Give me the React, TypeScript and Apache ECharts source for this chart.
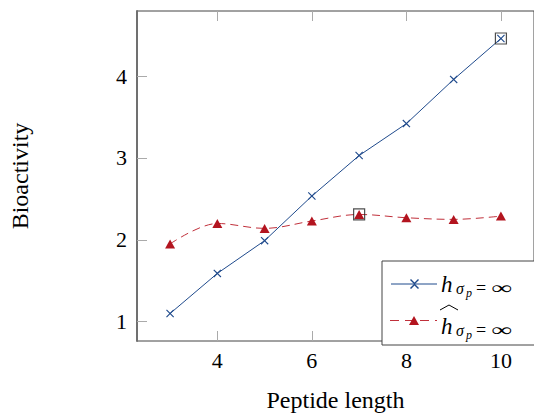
import React, { useEffect, useRef } from "react";
import * as echarts from "echarts";

const lengths = [3, 4, 5, 6, 7, 8, 9, 10];
const hValues = [1.1, 1.59, 1.99, 2.535, 3.03, 3.42, 3.96, 4.46];
const hHatValues = [1.95, 2.2, 2.14, 2.23, 2.31, 2.27, 2.25, 2.29];
const xTicks = [4, 6, 8, 10];
const yTicks = [1, 2, 3, 4];
const xLabel = "Peptide length";
const yLabel = "Bioactivity";

const BLUE = "#1f4a8c";
const RED = "#b3141f";
const SERIF = "Liberation Serif, Times New Roman, serif";
const CROSS = "path://M1,0L5,4L9,0L10,1L6,5L10,9L9,10L5,6L1,10L0,9L4,5L0,1Z";

export default function App() {
  const ref = useRef<HTMLDivElement>(null);
  useEffect(() => {
    if (!ref.current) return;
    const chart = echarts.init(ref.current, undefined, { renderer: "svg" });
    const hData = lengths.map((x, i) => [x, hValues[i]]);
    const hatData = lengths.map((x, i) => [x, hHatValues[i]]);
    const highlight = [
      [lengths[4], hHatValues[4]],
      [lengths[7], hValues[7]],
    ];
    const mathText = (x: number, baseline: number, text: string, size: number, italic = true, scaleX = 1) => ({
      type: "text",
      x,
      y: baseline - 0.32 * size,
      scaleX,
      z: 100,
      style: {
        text,
        fontFamily: SERIF,
        fontSize: size,
        fontStyle: italic ? "italic" : "normal",
        fill: "#000",
        verticalAlign: "middle",
        align: "left",
      },
    });
    const legendRow = (base: number) => [
      mathText(441, base, "h", 23),
      mathText(456, base + 2, "σ", 16),
      mathText(466, base + 5, "p", 12),
      mathText(476, base + 2, "=", 18, false),
      mathText(491, base + 2, "∞", 18, false, 1.6),
    ];
    chart.setOption({
      animation: false,
      textStyle: { fontFamily: SERIF },
      grid: {
        left: 136,
        top: 11,
        width: 406,
        height: 334,
        show: true,
        borderColor: "#444",
        borderWidth: 1,
      },
      xAxis: [
        {
          type: "value",
          min: 2.3,
          max: 10.7,
          position: "bottom",
          splitLine: { show: false },
          axisLine: { show: false },
          axisTick: { show: true, inside: true, length: 10, customValues: xTicks, lineStyle: { color: "#aaa" } },
          axisLabel: { customValues: xTicks, fontFamily: SERIF, fontSize: 22, color: "#000", margin: 8 },
          name: xLabel,
          nameLocation: "middle",
          nameGap: 47,
          nameTextStyle: { fontFamily: SERIF, fontSize: 24, color: "#000" },
        },
        {
          type: "value",
          min: 2.3,
          max: 10.7,
          position: "top",
          splitLine: { show: false },
          axisLine: { show: false },
          axisTick: { show: true, inside: true, length: 10, customValues: xTicks, lineStyle: { color: "#aaa" } },
          axisLabel: { show: false },
        },
      ],
      yAxis: {
        type: "value",
        min: 0.764,
        max: 4.796,
        splitLine: { show: false },
        axisLine: { show: true, lineStyle: { color: "#707070", width: 2 } },
        axisTick: { show: true, inside: true, length: 10, customValues: yTicks, lineStyle: { color: "#aaa" } },
        axisLabel: { customValues: yTicks, fontFamily: SERIF, fontSize: 22, color: "#000", margin: 10 },
        name: yLabel,
        nameLocation: "middle",
        nameRotate: 90,
        nameGap: 105,
        nameTextStyle: { fontFamily: SERIF, fontSize: 24, color: "#000" },
      },
      series: [
        {
          type: "line",
          data: hData,
          symbol: CROSS,
          symbolSize: 8,
          showSymbol: true,
          lineStyle: { color: BLUE, width: 1 },
          itemStyle: { color: BLUE },
          z: 3,
        },
        {
          type: "line",
          data: hatData,
          smooth: 0.35,
          symbol: "triangle",
          symbolSize: [10, 9],
          lineStyle: { color: "#c0303b", width: 1, type: [8, 5] },
          itemStyle: { color: RED },
          z: 2,
        },
        {
          type: "scatter",
          data: highlight,
          symbol: "rect",
          symbolSize: 11,
          itemStyle: { color: "rgba(0,0,0,0)", borderColor: "#222", borderWidth: 1.2 },
          z: 4,
        },
      ],
      graphic: [
        {
          type: "rect",
          shape: { x: 382, y: 261, width: 160, height: 84 },
          style: { fill: "#fff", stroke: "#444", lineWidth: 1 },
          z: 90,
        },
        {
          type: "line",
          shape: { x1: 391, y1: 284, x2: 437, y2: 284 },
          style: { stroke: BLUE, lineWidth: 1 },
          z: 95,
        },
        {
          type: "polygon",
          shape: { points: [[410, 280], [414, 284], [410, 288], [411, 289], [414.5, 285.5], [418, 289], [419, 288], [415, 284], [419, 280], [418, 279], [414.5, 282.5], [411, 279]] },
          style: { fill: BLUE },
          z: 96,
        },
        {
          type: "line",
          shape: { x1: 390, y1: 320.5, x2: 437, y2: 320.5 },
          style: { stroke: "#c0303b", lineWidth: 1, lineDash: [9, 6] },
          z: 95,
        },
        {
          type: "polygon",
          shape: { points: [[409, 325], [419, 325], [414, 316]] },
          style: { fill: RED },
          z: 96,
        },
        ...legendRow(292),
        {
          type: "polyline",
          shape: { points: [[440, 310], [449, 305], [458, 310]] },
          style: { stroke: "#000", lineWidth: 1, fill: "none" },
          z: 100,
        },
        ...legendRow(334),
      ],
    });
    return () => chart.dispose();
  }, []);
  return (
    <div
      ref={ref}
      style={{ position: "fixed", left: 0, top: 0, width: 534, height: 417, background: "#fff" }}
    />
  );
}
